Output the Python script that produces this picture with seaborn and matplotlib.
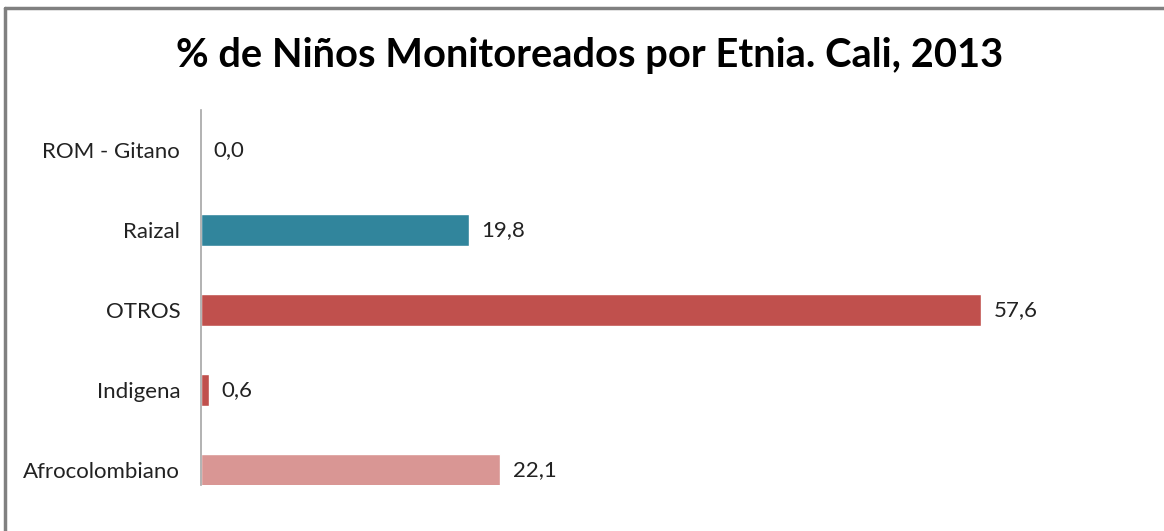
import pandas as pd
import matplotlib.pyplot as plt
import seaborn as sns

categorias = ['ROM - Gitano', 'Raizal', 'OTROS', 'Indigena', 'Afrocolombiano']
porcentajes = [0.0, 19.8, 57.6, 0.6, 22.1]
colores = ['#31859C', '#31859C', '#C0504D', '#C0504D', '#D99694']
etiquetas = ['0,0', '19,8', '57,6', '0,6', '22,1']

df = pd.DataFrame({'Etnia': categorias, 'Porcentaje': porcentajes})

sns.set_style('white')
plt.rcParams['font.family'] = ['Lato', 'DejaVu Sans']

fig = plt.figure(figsize=(11.64, 5.31), dpi=100)
ax = fig.add_axes([0.1727, 0.0866, 0.6981, 0.7062])

sns.barplot(data=df, x='Porcentaje', y='Etnia', hue='Etnia', palette=colores,
            legend=False, width=0.39, saturation=1, ax=ax)

for cont, lab in zip(ax.containers, etiquetas):
    ax.bar_label(cont, labels=[lab], padding=9, fontsize=16, color='#222222')

ax.set_xlim(0, 60)
ax.set_ylim(4.1875, -0.5)
ax.set_xlabel('')
ax.set_ylabel('')
ax.set_xticks([])
ax.tick_params(axis='y', length=0, labelsize=16, pad=15, labelcolor='#222222')
for s in ['top', 'right', 'bottom']:
    ax.spines[s].set_visible(False)
ax.spines['left'].set_color('#A6A6A6')
ax.spines['left'].set_linewidth(1.2)

fig.text(590/1164, 1 - 55/531, '% de Niños Monitoreados por Etnia. Cali, 2013',
         ha='center', va='center', fontsize=28.7, fontweight='bold', color='black')

# marco gris (solo arriba e izquierda visibles)
fig.add_artist(plt.Line2D([5/1164, 1], [1 - 8/531, 1 - 8/531], color='#808080', lw=2.5))
fig.add_artist(plt.Line2D([5/1164, 5/1164], [0, 1 - 8/531], color='#808080', lw=2.5))

fig.savefig('out.png', dpi=100, facecolor='white')
